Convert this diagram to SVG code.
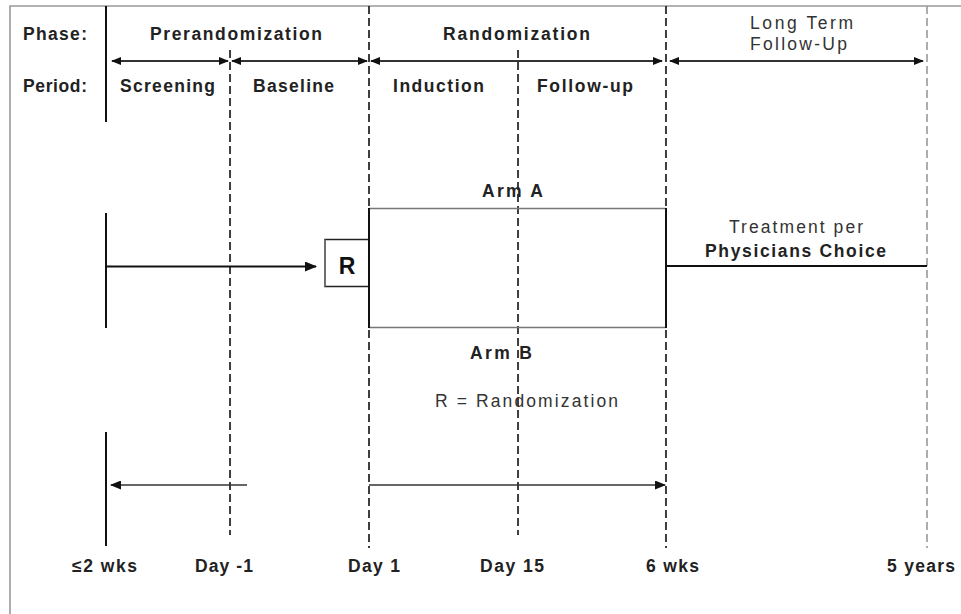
<svg xmlns="http://www.w3.org/2000/svg" width="961" height="614" viewBox="0 0 961 614">
<style>
text{font-family:"Liberation Sans",Arial,sans-serif;font-size:17.5px;fill:#222}
.b{font-weight:bold}
.r{font-weight:normal;fill:#333}
.solid{stroke:#111;stroke-width:2;fill:none}
.dash{stroke:#111;stroke-width:1.6;stroke-dasharray:8 4;fill:none}
.dashg{stroke:#999;stroke-width:1.6;stroke-dasharray:8 4;fill:none}
.ph{stroke:#333;stroke-width:1.8;fill:none;marker-start:url(#ah);marker-end:url(#ah)}
</style>
<defs>
<marker id="ah" markerUnits="userSpaceOnUse" markerWidth="10" markerHeight="8" refX="9" refY="4" orient="auto-start-reverse"><path d="M0,0 L10,4 L0,8 z" fill="#111"/></marker>
<marker id="ahb" markerUnits="userSpaceOnUse" markerWidth="12" markerHeight="10" refX="11" refY="5" orient="auto"><path d="M0,0 L12,5 L0,10 z" fill="#111"/></marker>
<marker id="ahm" markerUnits="userSpaceOnUse" markerWidth="11" markerHeight="9" refX="10" refY="4.5" orient="auto"><path d="M0,0 L11,4.5 L0,9 z" fill="#111"/></marker>
</defs>
<rect width="961" height="614" fill="#fff"/>
<path d="M10,614 V6 H961" stroke="#999" stroke-width="1.6" fill="none"/>

<g id="gridlines">
<path class="solid" d="M106,6 V122 M106,213 V328 M106,432 V546"/>
<path class="dash" d="M230,50 V535"/>
<path class="dash" d="M369,6 V548"/>
<path class="dash" d="M518,50 V535"/>
<path class="dash" d="M666,6 V548"/>
<path class="dashg" d="M927,6 V548"/>
</g>

<g id="header">
<text class="b" x="23" y="40" textLength="64" lengthAdjust="spacing">Phase:</text>
<text class="b" x="150" y="40" textLength="172" lengthAdjust="spacing">Prerandomization</text>
<text class="b" x="443" y="40" textLength="147" lengthAdjust="spacing">Randomization</text>
<text class="r" x="750" y="29" textLength="103" lengthAdjust="spacing">Long Term</text>
<text class="r" x="750" y="50" textLength="97" lengthAdjust="spacing">Follow-Up</text>
<text class="b" x="23" y="92" textLength="64" lengthAdjust="spacing">Period:</text>
<text class="b" x="120" y="92" textLength="95" lengthAdjust="spacing">Screening</text>
<text class="b" x="253" y="92" textLength="81" lengthAdjust="spacing">Baseline</text>
<text class="b" x="393" y="92" textLength="91" lengthAdjust="spacing">Induction</text>
<text class="b" x="537" y="92" textLength="96" lengthAdjust="spacing">Follow-up</text>
</g>

<g id="connectors">
<line class="ph" x1="112" y1="61" x2="228" y2="61"/>
<line class="ph" x1="232" y1="61" x2="367" y2="61"/>
<line class="ph" x1="371" y1="61" x2="662" y2="61"/>
<line class="ph" x1="670" y1="61" x2="923" y2="61"/>
<line x1="106" y1="266.5" x2="316" y2="266.5" stroke="#111" stroke-width="2.2" marker-end="url(#ahb)"/>
<line x1="666" y1="266" x2="927" y2="266" stroke="#111" stroke-width="2"/>
<line x1="247" y1="485" x2="111" y2="485" stroke="#333" stroke-width="1.5" marker-end="url(#ahm)"/>
<line x1="369" y1="485" x2="665" y2="485" stroke="#333" stroke-width="1.5" marker-end="url(#ahm)"/>
</g>

<g id="node-R">
<path d="M369,239.5 H325 V286.5 H369" stroke="#222" stroke-width="1.6" fill="#fff"/>
<path d="M325,239.5 V286.5" stroke="#888" stroke-width="1.2"/>
<text x="347" y="273.5" text-anchor="middle" style="font-size:23px;font-weight:bold;fill:#111">R</text>
</g>

<g id="node-arms">
<path d="M369,208.5 H666 M369,327.5 H666" stroke="#777" stroke-width="1.6" fill="none"/>
<path d="M369,208 V328 M666,208 V328" stroke="#111" stroke-width="2" fill="none"/>
<text class="b" x="482" y="197" textLength="61" lengthAdjust="spacing">Arm A</text>
<text class="b" x="470" y="359" textLength="62" lengthAdjust="spacing">Arm B</text>
<text class="r" x="435" y="407" textLength="183" lengthAdjust="spacing">R = Randomization</text>
</g>

<g id="node-ltfu">
<text class="r" x="729" y="233" textLength="134" lengthAdjust="spacing">Treatment per</text>
<text class="b" x="705" y="257" textLength="181" lengthAdjust="spacing">Physicians Choice</text>
</g>

<g id="timepoints">
<text class="b" x="72" y="572" textLength="65" lengthAdjust="spacing">≤2 wks</text>
<text class="b" x="195" y="572" textLength="58" lengthAdjust="spacing">Day -1</text>
<text class="b" x="348" y="572" textLength="52" lengthAdjust="spacing">Day 1</text>
<text class="b" x="480" y="572" textLength="64" lengthAdjust="spacing">Day 15</text>
<text class="b" x="646" y="572" textLength="53" lengthAdjust="spacing">6 wks</text>
<text class="b" x="887" y="572" textLength="68" lengthAdjust="spacing">5 years</text>
</g>
</svg>
